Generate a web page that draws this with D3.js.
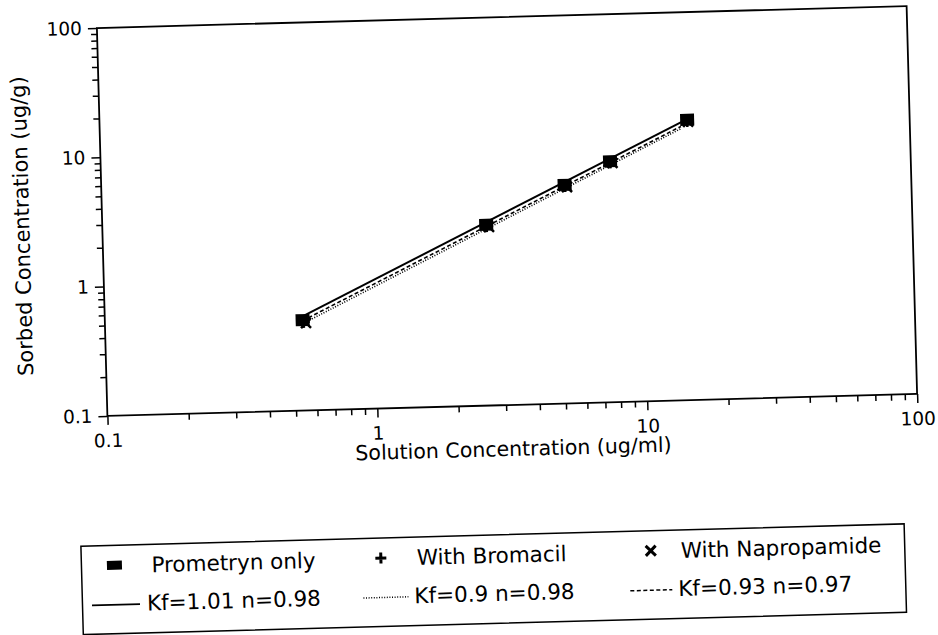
<!DOCTYPE html>
<html>
<head>
<meta charset="utf-8">
<script src="https://cdn.jsdelivr.net/npm/d3@7"></script>
<style>
  body { margin: 0; background: #fff; }
  svg { display: block; font-family: "DejaVu Sans", sans-serif; }
</style>
</head>
<body>
<svg id="chart" width="938" height="635"></svg>
<script>
"use strict";

const plotLeft = 102;
const plotRight = 912;
const plotTop = 17;
const plotBottom = 405;

// values
const prometrynX = [0.54, 2.64, 5.2, 7.7, 15.0];
const prometrynY = [0.50, 2.5, 4.9, 7.3, 14.7];
const bromacilX = [0.545, 2.65, 5.22, 7.72, 15.0];
const bromacilY = [0.485, 2.44, 4.8, 7.15, 14.4];
const napropX = [0.555, 2.7, 5.3, 7.85, 15.1];
const napropY = [0.475, 2.4, 4.7, 7.05, 14.2];

// fitted lines, end points only (straight on log-log)
const fitSolidX = [0.54, 15.0];
const fitSolidY = [0.535, 14.9];
const fitDottedX = [0.54, 14.2];
const fitDottedY = [0.47, 12.6];
const fitDashedX = [0.54, 14.2];
const fitDashedY = [0.495, 13.1];

const majorTicks = [0.1, 1, 10, 100];
const tickLabels = ["0.1", "1", "10", "100"];

const seriesLabels = ["Prometryn only", "With Bromacil", "With Napropamide"];
const fitLabels = ["Kf=1.01 n=0.98", "Kf=0.9 n=0.98", "Kf=0.93 n=0.97"];

window.addEventListener("load", init);

var xScale, yScale;

function zip(xs, ys) {
    return xs.map((x, i) => ({x: x, y: ys[i]}));
}

function drawSquare(g, cx, cy, w, h) {
    g.append("rect")
        .attr("x", cx - w / 2)
        .attr("y", cy - h / 2)
        .attr("width", w)
        .attr("height", h)
        .attr("fill", "black");
}

function drawPlus(g, cx, cy, s, sw) {
    g.append("path")
        .attr("d", `M${cx - s},${cy}H${cx + s}M${cx},${cy - s}V${cy + s}`)
        .attr("stroke", "black")
        .attr("stroke-width", sw);
}

function drawCross(g, cx, cy, s, sw) {
    g.append("path")
        .attr("d", `M${cx - s},${cy - s}L${cx + s},${cy + s}M${cx - s},${cy + s}L${cx + s},${cy - s}`)
        .attr("stroke", "black")
        .attr("stroke-width", sw);
}

function init() {
    xScale = d3.scaleLog().domain([0.1, 100]).range([plotLeft, plotRight]);
    yScale = d3.scaleLog().domain([0.1, 100]).range([plotBottom, plotTop]);

    const svg = d3.select("svg#chart");
    // the scanned page sits a little crooked
    const root = svg.append("g")
        .attr("transform", "rotate(-1.55, 507, 211)");

    const fmt = d => tickLabels[majorTicks.indexOf(d)];
    const minorTicks = xScale.ticks().filter(d => majorTicks.indexOf(d) < 0);

    // x axis
    const xMajor = root.append("g")
        .attr("transform", `translate(0,${plotBottom})`)
        .call(d3.axisBottom(xScale).tickValues(majorTicks).tickFormat(fmt)
            .tickSize(9).tickPadding(9));
    const xMinor = root.append("g")
        .attr("transform", `translate(0,${plotBottom})`)
        .call(d3.axisBottom(xScale).tickValues(minorTicks).tickFormat("").tickSize(6));

    // y axis
    const yMajor = root.append("g")
        .attr("transform", `translate(${plotLeft},0)`)
        .call(d3.axisLeft(yScale).tickValues(majorTicks).tickFormat(fmt)
            .tickSize(9).tickPadding(6));
    const yMinor = root.append("g")
        .attr("transform", `translate(${plotLeft},0)`)
        .call(d3.axisLeft(yScale).tickValues(minorTicks).tickFormat("").tickSize(6));

    [xMajor, xMinor, yMajor, yMinor].forEach(a => {
        a.select(".domain").remove();
        a.selectAll("line").attr("stroke", "black").attr("stroke-width", 1.5);
        a.selectAll("text")
            .attr("fill", "black")
            .style("font-size", "18.5px")
            .style("font-family", "DejaVu Sans, sans-serif");
    });

    // frame
    root.append("rect")
        .attr("x", plotLeft)
        .attr("y", plotTop)
        .attr("width", plotRight - plotLeft)
        .attr("height", plotBottom - plotTop)
        .attr("fill", "none")
        .attr("stroke", "black")
        .attr("stroke-width", 1.8);

    // axis titles
    root.append("text")
        .attr("x", (plotLeft + plotRight) / 2)
        .attr("y", 456)
        .attr("text-anchor", "middle")
        .style("font-size", "20.5px")
        .text("Solution Concentration (ug/ml)");
    root.append("text")
        .attr("transform", `translate(29,${(plotTop + plotBottom) / 2 + 2}) rotate(-90)`)
        .attr("text-anchor", "middle")
        .style("font-size", "21px")
        .text("Sorbed Concentration (ug/g)");

    // fitted lines
    const line = d3.line().x(d => xScale(d.x)).y(d => yScale(d.y));
    const fits = [
        {pts: zip(fitSolidX, fitSolidY), dash: null, w: 2},
        {pts: zip(fitDottedX, fitDottedY), dash: "1,1.6", w: 1.6},
        {pts: zip(fitDashedX, fitDashedY), dash: "4,2.5", w: 1.6}
    ];
    root.selectAll("path.fit")
        .data(fits)
        .join("path")
        .attr("class", "fit")
        .attr("d", d => line(d.pts))
        .attr("fill", "none")
        .attr("stroke", "black")
        .attr("stroke-width", d => d.w)
        .attr("stroke-dasharray", d => d.dash);

    // points
    const marks = root.append("g");
    zip(napropX, napropY).forEach(p => drawCross(marks, xScale(p.x), yScale(p.y), 5, 2.5));
    zip(bromacilX, bromacilY).forEach(p => drawPlus(marks, xScale(p.x), yScale(p.y), 6, 2.5));
    zip(prometrynX, prometrynY).forEach(p => drawSquare(marks, xScale(p.x), yScale(p.y), 14, 12));

    // legend
    const lg = root.append("g");
    lg.append("rect")
        .attr("x", 72)
        .attr("y", 534.5)
        .attr("width", 823.5)
        .attr("height", 88.5)
        .attr("fill", "none")
        .attr("stroke", "black")
        .attr("stroke-width", 1.5);

    const colMarkX = [105, 371.5, 641.5];
    const colLine = [[81.5, 129.5], [353, 398], [620, 662]];
    const colText1 = [142, 407.5, 671.5];
    const colText2 = [136.5, 404, 668];
    const row1 = 554.5;
    const row2 = 592.5;
    const dashes = [null, "1,1.6", "4,2.5"];

    drawSquare(lg, colMarkX[0], row1, 15, 9);
    drawPlus(lg, colMarkX[1], row1, 5.5, 3);
    drawCross(lg, colMarkX[2], row1, 5, 3);

    seriesLabels.forEach((t, i) => {
        lg.append("text")
            .attr("x", colText1[i])
            .attr("y", row1 + 8)
            .style("font-size", "21.5px")
            .text(t);
    });
    fitLabels.forEach((t, i) => {
        lg.append("line")
            .attr("x1", colLine[i][0])
            .attr("x2", colLine[i][1])
            .attr("y1", row2 + 1.5)
            .attr("y2", row2 + 1.5)
            .attr("stroke", "black")
            .attr("stroke-width", i === 0 ? 1.8 : 1.5)
            .attr("stroke-dasharray", dashes[i]);
        lg.append("text")
            .attr("x", colText2[i])
            .attr("y", row2 + 8)
            .style("font-size", "21.5px")
            .text(t);
    });
}
</script>
</body>
</html>
